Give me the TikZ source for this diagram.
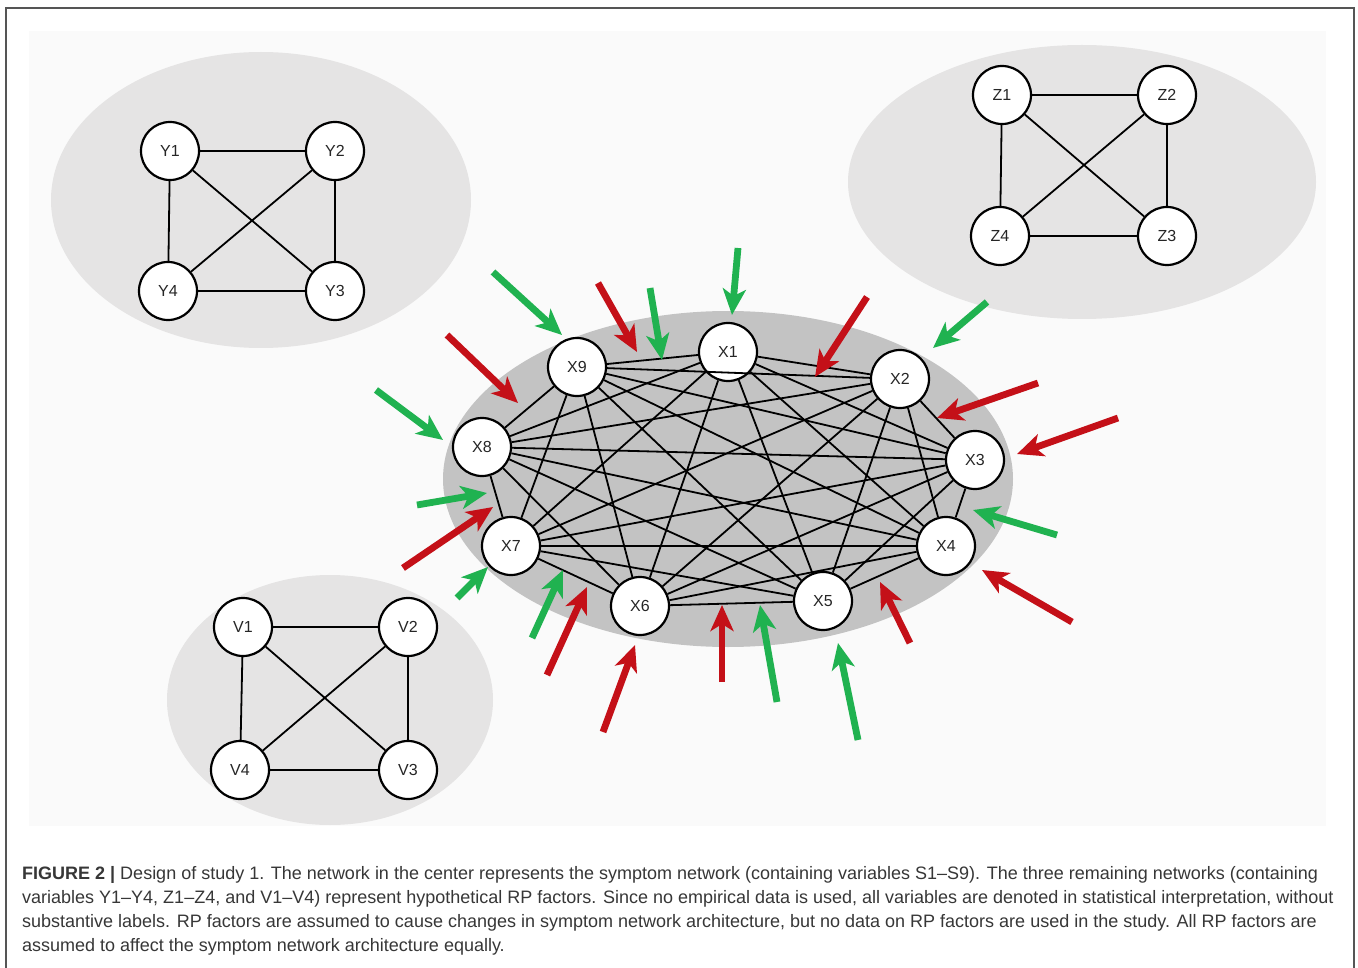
\documentclass[tikz,border=0pt]{standalone}
\usepackage{fontspec}
\setmainfont{Liberation Sans}
\newfontfamily\capfont{Liberation Sans}
\usetikzlibrary{arrows.meta}

\definecolor{panelgray}{RGB}{250,250,250}
\definecolor{blobgray}{RGB}{229,228,228}
\definecolor{coregray}{RGB}{195,195,195}
\definecolor{pushgreen}{RGB}{32,178,80}
\definecolor{pushred}{RGB}{196,16,24}
\definecolor{framegray}{RGB}{85,85,85}
\definecolor{captext}{RGB}{55,55,55}

\begin{document}
\begin{tikzpicture}[x=1pt,y=-1pt,
  var/.style={circle, draw=black, line width=2.2pt, fill=white,
    minimum size=58pt, inner sep=0pt, text=black!85,
    font=\fontsize{16}{16}\selectfont},
  tie/.style={black, line width=1.8pt},
  push/.style={line width=6.8pt,
    -{Stealth[length=26pt,width=23pt,inset=7pt]}},
  captionline/.style={anchor=base west, inner sep=0pt, text=captext,
    font=\capfont\fontsize{18}{18}\selectfont}]

\useasboundingbox (0,0) rectangle (1358,968);
\fill[white] (0,0) rectangle (1358,968);

% frame and panel
\draw[framegray, line width=1.5pt] (6,980) -- (6,8) -- (1354,8) -- (1354,980);
\fill[panelgray] (29,31) rectangle (1326,826);

% background blobs
\begin{scope}
  \clip (29,31) rectangle (1326,826);
  \fill[blobgray] (261,200) ellipse [x radius=210pt, y radius=148pt];
  \fill[blobgray] (1082,182) ellipse [x radius=234pt, y radius=137pt];
  \fill[blobgray] (330,700) ellipse [x radius=163pt, y radius=125pt];
  \fill[coregray] (728,479) ellipse [x radius=285pt, y radius=168pt];
\end{scope}

% Y network
\node[var] (Y1) at (170,151) {Y1};
\node[var] (Y2) at (335,151) {Y2};
\node[var] (Y3) at (335,291) {Y3};
\node[var] (Y4) at (168,291) {Y4};
% Z network
\node[var] (Z1) at (1002,95) {Z1};
\node[var] (Z2) at (1167,95) {Z2};
\node[var] (Z3) at (1167,236) {Z3};
\node[var] (Z4) at (1000,236) {Z4};
% V network
\node[var] (V1) at (243,627) {V1};
\node[var] (V2) at (408,627) {V2};
\node[var] (V3) at (408,770) {V3};
\node[var] (V4) at (240,770) {V4};

\foreach \g in {Y,Z,V}{
  \draw[tie] (\g1) -- (\g2) (\g2) -- (\g3) (\g3) -- (\g4) (\g4) -- (\g1)
             (\g1) -- (\g3) (\g2) -- (\g4);
}

% symptom network
\node[var] (X1) at (728,352) {X1};
\node[var] (X2) at (900,379) {X2};
\node[var] (X3) at (975,460) {X3};
\node[var] (X4) at (946,546) {X4};
\node[var] (X5) at (823,601) {X5};
\node[var] (X6) at (640,606) {X6};
\node[var] (X7) at (511,546) {X7};
\node[var] (X8) at (482,447) {X8};
\node[var] (X9) at (577,367) {X9};

\foreach \a in {1,...,8}{
  \pgfmathtruncatemacro{\b}{\a+1}
  \foreach \c in {\b,...,9}{
    \draw[tie] (X\a) -- (X\c);
  }
}

% influences of the RP factors
\foreach \sx/\sy/\tx/\ty/\col [count=\i] in {
  493/272/562/335/pushgreen,
  650/288/662/360/pushgreen,
  376/390/443/440/pushgreen,
  738/248/732/315/pushgreen,
  987/302/933/348/pushgreen,
  1057/535/973/510/pushgreen,
  858/740/838/643/pushgreen,
  777/702/760/605/pushgreen,
  532/638/563/570/pushgreen,
  457/598/488/567/pushgreen,
  417/505/487/493/pushgreen,
  598/283/637/352/pushred,
  447/335/518/403/pushred,
  867/297/815/377/pushred,
  1038/383/937/418/pushred,
  1118/418/1017/454/pushred,
  1072/622/982/570/pushred,
  910/643/880/582/pushred,
  722/682/722/605/pushred,
  603/732/635/645/pushred,
  547/675/587/587/pushred,
  403/568/493/507/pushred}{
  \coordinate (src\i) at (\sx,\sy);
  \coordinate (dst\i) at (\tx,\ty);
  \draw[push, \col] (src\i) -- (dst\i);
}

% caption
\node[captionline] (cap1) at (22,879) {\textbf{FIGURE 2 |} Design of study 1. The network in the center represents the symptom network (containing variables S1–S9). The three remaining networks (containing};
\node[captionline] (cap2) at (22,903) {variables Y1–Y4, Z1–Z4, and V1–V4) represent hypothetical RP factors. Since no empirical data is used, all variables are denoted in statistical interpretation, without};
\node[captionline] (cap3) at (22,927) {substantive labels. RP factors are assumed to cause changes in symptom network architecture, but no data on RP factors are used in the study. All RP factors are};
\node[captionline] (cap4) at (22,951) {assumed to affect the symptom network architecture equally.};
\end{tikzpicture}
\end{document}
